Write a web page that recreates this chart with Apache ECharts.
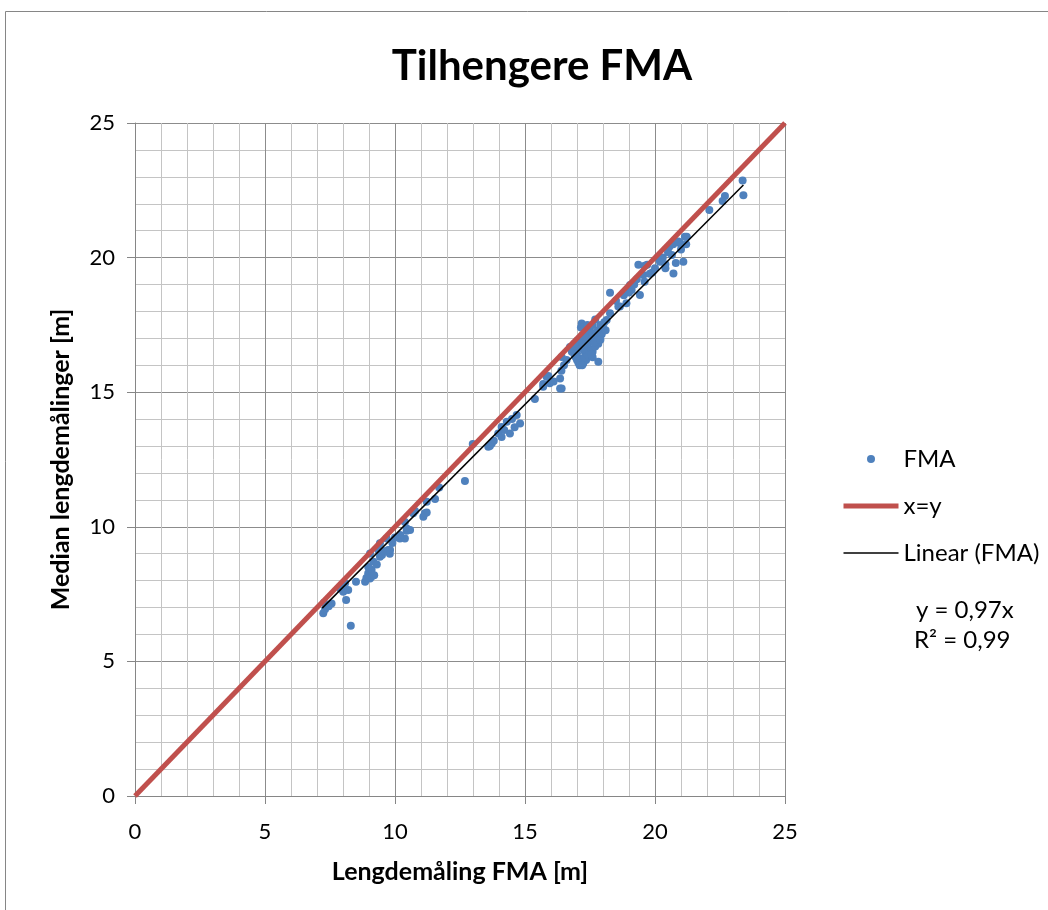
<!DOCTYPE html>
<html>
<head>
<meta charset="utf-8">
<script src="https://cdn.jsdelivr.net/npm/echarts@6/dist/echarts.min.js"></script>
<style>
  body { margin: 0; background: #fff; }
</style>
</head>
<body>
<div id="fmaChart" style="width: 1048px;height: 910px;"></div>
<script>
// measured points: [lengdemåling FMA, median lengdemålinger]
const fmaPoints = [
  [7.24, 6.79], [7.31, 6.94], [7.27, 7.18], [7.56, 7.15], [7.45, 7.05], [8.12, 7.28], [8.01, 7.59],
  [8.2, 7.65], [7.95, 7.84], [8.08, 7.9], [7.9, 7.7], [8.3, 6.32], [8.5, 7.96], [8.85, 7.96],
  [9.04, 8.08], [8.97, 8.27], [9.1, 8.4], [8.97, 8.51], [9.17, 8.7], [9.42, 8.89], [9.04, 9.01],
  [9.36, 9.14], [9.74, 9.14], [9.42, 9.39], [9.8, 9.0], [9.1, 8.15], [8.9, 8.1], [9.2, 8.2],
  [9.3, 8.6], [9.5, 8.95], [9.55, 9.1], [9.68, 9.57], [9.81, 9.14], [10.19, 9.57], [10.38, 9.57],
  [10.2, 9.7], [10.45, 9.94], [10.58, 9.88], [10.45, 9.85], [10.38, 10.18], [10.77, 10.59],
  [10.7, 10.5], [11.09, 10.37], [11.22, 10.53], [11.22, 10.93], [11.54, 11.03], [11.7, 11.46],
  [11.15, 10.5], [12.69, 11.7], [10.0, 9.6], [9.9, 9.4],
  [12.99, 13.08], [13.59, 12.97], [13.72, 13.09], [13.8, 13.2], [13.97, 13.47], [14.1, 13.34],
  [14.1, 13.71], [14.3, 13.9], [14.42, 13.47], [14.5, 14.0], [14.68, 14.15], [14.81, 13.84],
  [14.6, 13.7], [13.65, 13.0], [14.2, 13.6], [15.38, 14.75], [15.7, 15.2], [15.95, 15.33],
  [16.35, 15.14], [16.1, 15.4], [16.41, 15.14], [15.83, 15.57], [15.9, 15.6], [15.7, 15.3],
  [16.35, 15.51], [16.41, 16.31], [16.4, 15.8],
  [16.73, 16.68], [17.0, 16.9], [17.18, 17.55], [17.24, 16.07], [17.05, 16.1], [17.35, 16.2],
  [17.82, 16.13], [17.82, 16.8], [17.6, 16.95], [17.95, 17.15], [17.4, 17.2], [17.5, 17.43],
  [17.7, 17.7], [18.14, 17.68], [18.27, 17.93], [18.59, 18.18], [18.9, 18.3], [17.6, 16.5],
  [17.3, 16.5], [16.9, 16.4], [17.0, 16.2], [17.2, 16.25], [16.8, 16.5], [17.1, 16.0],
  [17.2, 16.0], [17.3, 16.3], [17.5, 16.6], [17.7, 16.7], [17.4, 16.8], [17.1, 16.7],
  [17.2, 16.9], [17.5, 17.0], [17.6, 17.2], [17.8, 17.3], [17.3, 17.3], [17.2, 17.1],
  [17.0, 16.6], [16.9, 16.8], [17.6, 17.5], [17.9, 17.5], [18.0, 17.4], [18.1, 17.3],
  [17.7, 17.0], [17.4, 16.4], [17.6, 16.3], [17.15, 17.4], [17.4, 17.5], [16.6, 16.2], [16.5, 16.0],
  [17.0, 16.45], [17.25, 16.6], [17.45, 16.9], [17.65, 16.85], [17.9, 16.95], [17.35, 17.0],
  [16.95, 16.3], [17.55, 16.4], [17.75, 17.2], [18.05, 17.6],
  [18.27, 18.69], [18.65, 18.18], [19.04, 18.98], [19.1, 18.8], [19.42, 18.61], [19.36, 19.73],
  [19.55, 19.35], [19.7, 19.73], [19.8, 19.4], [19.9, 19.45], [20.19, 19.85], [20.3, 20.0],
  [20.71, 19.41], [21.09, 19.85], [20.65, 20.1], [20.96, 20.53], [21.22, 20.77], [21.0, 20.3],
  [20.4, 19.6], [19.6, 19.7], [20.8, 19.8], [20.4, 19.75], [19.2, 19.0], [19.0, 18.7],
  [19.3, 19.2], [19.6, 19.1], [20.0, 19.6], [20.1, 20.0], [20.5, 20.2], [20.7, 20.5],
  [21.15, 20.77], [20.9, 20.6], [21.2, 20.5], [20.55, 20.4], [18.8, 18.6], [18.5, 18.4],
  [22.09, 21.77], [22.69, 22.29], [22.6, 22.1], [23.37, 22.86], [23.4, 22.32]
];
// x=y reference line
const identityX = [0, 25];
const identityY = [0, 25];
// linear trend line (y = 0,97x) end points
const trendX = [7.2, 23.4];
const trendY = [6.98, 22.7];

const legendNames = ['FMA', 'x=y', 'Linear (FMA)'];
const equationLines = ['y = 0,97x', 'R² = 0,99'];

const font = 'Lato';

let chart = echarts.init(document.getElementById('fmaChart'), null, {width: 1048, height: 910});

function axisCommon() {
  return {
    type: 'value',
    min: 0,
    max: 25,
    interval: 5,
    axisLine: {show: true, lineStyle: {color: '#868686', width: 1}},
    axisTick: {show: true, length: 8, lineStyle: {color: '#868686'}},
    minorTick: {show: false, splitNumber: 5},
    splitLine: {show: true, lineStyle: {color: '#8c8c8c', width: 1}},
    minorSplitLine: {show: true, lineStyle: {color: '#c4c4c4', width: 1}},
    axisLabel: {color: '#000', fontSize: 22, fontFamily: font},
    nameLocation: 'middle',
    nameTextStyle: {color: '#000', fontSize: 25, fontWeight: 'bold', fontFamily: font}
  };
}

let xAxis = axisCommon();
xAxis.name = 'Lengdemåling FMA [m]';
xAxis.nameGap = 63;
xAxis.axisLabel.margin = 25;

let yAxis = axisCommon();
yAxis.name = 'Median lengdemålinger [m]';
yAxis.nameGap = 62;
yAxis.axisLabel.margin = 20;

let option = {
  backgroundColor: '#fff',
  animation: false,
  title: {
    text: 'Tilhengere FMA',
    left: 537,
    textAlign: 'center',
    top: 40,
    textStyle: {fontSize: 42, fontWeight: 'bold', fontFamily: font, color: '#000'}
  },
  grid: {left: 135, right: 263, top: 123, bottom: 114, containLabel: false},
  xAxis: xAxis,
  yAxis: yAxis,
  legend: {
    orient: 'vertical',
    left: 836,
    top: 442,
    itemWidth: 55,
    itemHeight: 8,
    itemGap: 23,
    textStyle: {fontSize: 24, fontFamily: font, color: '#000'},
    data: [
      {name: legendNames[0], icon: 'circle'},
      {name: legendNames[1], itemStyle: {opacity: 0}, lineStyle: {width: 5}},
      {name: legendNames[2], itemStyle: {opacity: 0}, lineStyle: {width: 1.5}}
    ]
  },
  graphic: [
    {
      type: 'rect',
      shape: {x: 5.5, y: 11.5, width: 1100, height: 1000},
      style: {fill: null, stroke: '#868686', lineWidth: 1},
      silent: true
    },
    {
      type: 'text',
      left: 916,
      top: 598,
      style: {text: equationLines[0], fontSize: 24, fontFamily: font, fill: '#000'}
    },
    {
      type: 'text',
      left: 914,
      top: 628,
      style: {text: equationLines[1], fontSize: 24, fontFamily: font, fill: '#000'}
    }
  ],
  series: [
    {
      name: legendNames[1],
      type: 'line',
      data: identityX.map((x, i) => [x, identityY[i]]),
      symbol: 'none',
      lineStyle: {color: '#c0504d', width: 5},
      itemStyle: {color: '#c0504d'}
    },
    {
      name: legendNames[0],
      type: 'scatter',
      data: fmaPoints,
      symbolSize: 8,
      itemStyle: {color: '#4f81bd', opacity: 1}
    },
    {
      name: legendNames[2],
      type: 'line',
      data: trendX.map((x, i) => [x, trendY[i]]),
      symbol: 'none',
      lineStyle: {color: '#000', width: 1.5},
      itemStyle: {color: '#000'}
    }
  ]
};

chart.setOption(option);
</script>
</body>
</html>
